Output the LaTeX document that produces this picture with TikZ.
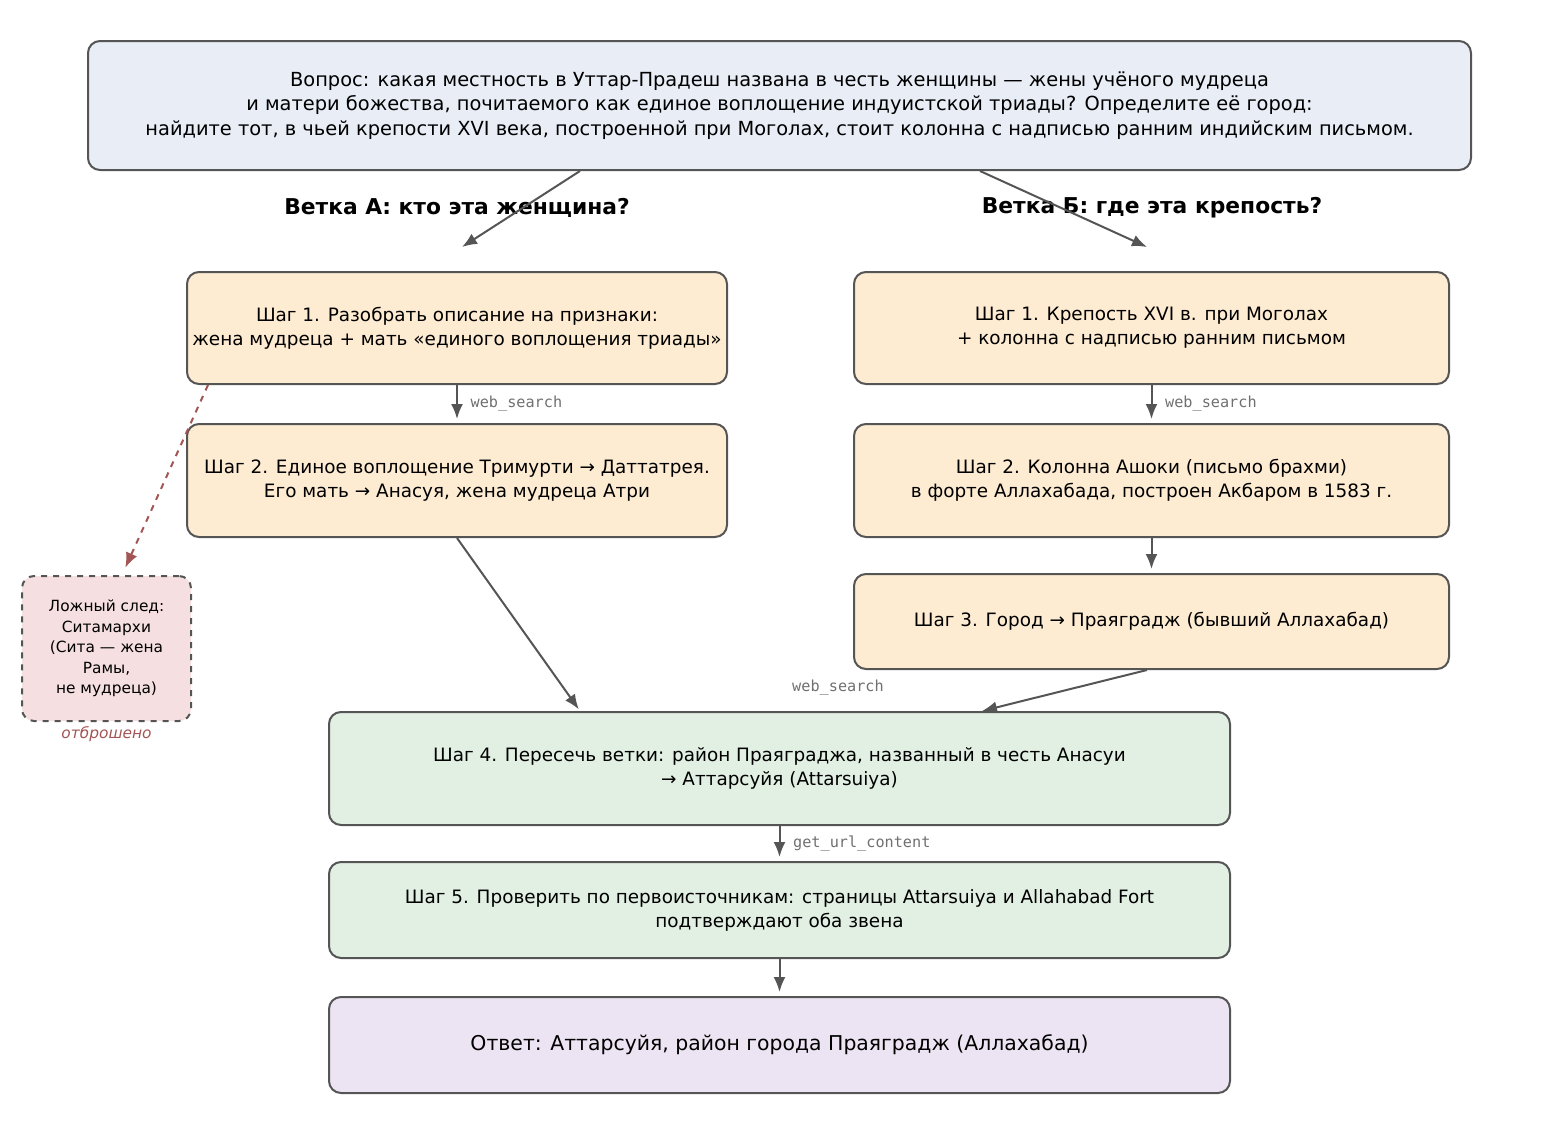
\documentclass[tikz,border=0pt]{standalone}
\usepackage{fontspec}
\setmainfont{DejaVu Sans}
\setmonofont{DejaVu Sans Mono}
\usetikzlibrary{positioning,arrows.meta}
\definecolor{edgegray}{HTML}{555555}
\definecolor{qblue}{HTML}{E8EDF6}
\definecolor{peach}{HTML}{FDEBD2}
\definecolor{mint}{HTML}{E2EFE3}
\definecolor{lilac}{HTML}{EDE4F3}
\definecolor{rose}{HTML}{F5DFE0}
\definecolor{dropred}{HTML}{A35454}
\definecolor{toolgray}{HTML}{707070}

\begin{document}
\begin{tikzpicture}[x=0.5pt,y=-0.5pt,
  box/.style={draw=edgegray, line width=1pt, rounded corners=6pt, align=center,
    font=\fontsize{9.2}{12}\selectfont, inner sep=0pt},
  arr/.style={-{Latex[length=7.5pt,width=6pt]}, draw=edgegray, line width=1pt},
  tool/.style={font=\ttfamily\fontsize{7.6}{9}\selectfont, text=toolgray},
  head/.style={font=\bfseries\fontsize{10.9}{13}\selectfont}]
\useasboundingbox (0,0) rectangle (1560,1136);

% Question
\node[box, fill=qblue, minimum width=691.5pt, minimum height=64.5pt,
  font=\fontsize{9.7}{12.3}\selectfont] (q) at (779.5,105.5)
  {Вопрос: какая местность в Уттар-Прадеш названа в честь женщины — жены учёного мудреца\\
   и матери божества, почитаемого как единое воплощение индуистской триады? Определите её город:\\
   найдите тот, в чьей крепости XVI века, построенной при Моголах, стоит колонна с надписью ранним индийским письмом.};

% Branch headers
\node[head] (headA) at (457,208) {Ветка А: кто эта женщина?};
\node[head] (headB) at (1152,208) {Ветка Б: где эта крепость?};
\coordinate (inA) at (462,247);
\coordinate (inB) at (1147,247);

% Branch A
\node[box, fill=peach, minimum width=270pt, minimum height=56pt] (a1) at (457,328)
  {Шаг 1. Разобрать описание на признаки:\\ жена мудреца + мать «единого воплощения триады»};
\node[box, fill=peach, minimum width=270pt, minimum height=56.5pt] (a2) at (457,480.5)
  {Шаг 2. Единое воплощение Тримурти → Даттатрея.\\ Его мать → Анасуя, жена мудреца Атри};

% Branch B
\node[box, fill=peach, minimum width=297.5pt, minimum height=56pt] (b1) at (1151.5,328)
  {Шаг 1. Крепость XVI в. при Моголах\\ + колонна с надписью ранним письмом};
\node[box, fill=peach, minimum width=297.5pt, minimum height=56.5pt] (b2) at (1151.5,480.5)
  {Шаг 2. Колонна Ашоки (письмо брахми)\\ в форте Аллахабада, построен Акбаром в 1583 г.};
\node[box, fill=peach, minimum width=297.5pt, minimum height=47.5pt] (b3) at (1151.5,621.5)
  {Шаг 3. Город → Праяградж (бывший Аллахабад)};

% False lead
\node[box, dashed, fill=rose, minimum width=84.5pt, minimum height=72.5pt,
  font=\fontsize{7.7}{10.2}\selectfont] (fake) at (106.5,648.5)
  {Ложный след:\\ Ситамархи\\ (Сита — жена\\ Рамы,\\ не мудреца)};
\node[below=1pt of fake, inner sep=1pt, text=dropred, font=\itshape\fontsize{7.7}{9}\selectfont] (fakeTag) {отброшено};

% Merge and answer
\node[box, fill=mint, minimum width=450.5pt, minimum height=56.5pt] (s4) at (779.5,768.5)
  {Шаг 4. Пересечь ветки: район Праяграджа, названный в честь Анасуи\\ → Аттарсуйя (Attarsuiya)};
\node[box, fill=mint, minimum width=450.5pt, minimum height=48pt] (s5) at (779.5,910)
  {Шаг 5. Проверить по первоисточникам: страницы Attarsuiya и Allahabad Fort\\ подтверждают оба звена};
\node[box, fill=lilac, minimum width=450.5pt, minimum height=48pt,
  font=\fontsize{10.2}{12}\selectfont] (ans) at (779.5,1045)
  {Ответ: Аттарсуйя, район города Праяградж (Аллахабад)};

% Connectors
\draw[arr] ([xshift=-99.75pt]q.south) -- (inA);
\draw[arr] ([xshift=100.25pt]q.south) -- (inB);
\draw[arr, shorten >=2pt] (a1) -- node[tool, right=3pt] (toolA) {web\_search} (a2);
\draw[arr, shorten >=2pt] (b1) -- node[tool, right=3pt] (toolB) {web\_search} (b2);
\draw[arr, shorten >=2pt] (b2) -- (b3);
\draw[arr, dashed, draw=dropred, shorten >=4pt] ([xshift=11pt]a1.south west) -- ([xshift=7.75pt]fake.north);
\draw[arr, shorten >=1pt] (a2.south) -- ([xshift=-99.75pt]s4.north);
\draw[arr] ([xshift=-2.25pt]b3.south) -- ([xshift=101.25pt]s4.north);
\node[tool] (toolC) at (838,688) {web\_search};
\draw[arr, shorten >=2pt] (s4) -- node[tool, right=3pt] (toolD) {get\_url\_content} (s5);
\draw[arr, shorten >=2pt] (s5) -- (ans);
\end{tikzpicture}
\end{document}
